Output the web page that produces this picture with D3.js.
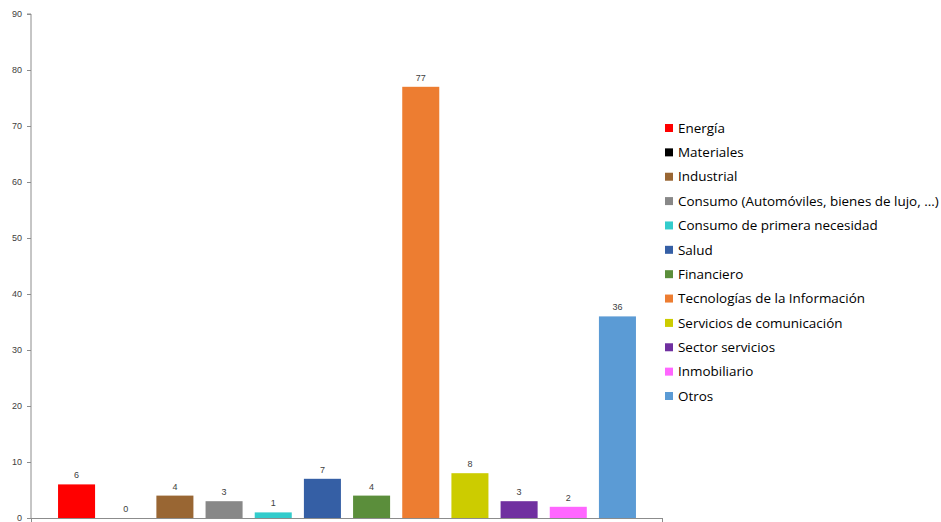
<!DOCTYPE html>
<html><head><meta charset="utf-8">
<script src="https://cdn.jsdelivr.net/npm/d3@7"></script>
<style>body{margin:0;background:#fff}svg{display:block}</style>
</head><body>
<svg id="c" width="941" height="522"></svg>
<script>
const categories = ["Energía","Materiales","Industrial","Consumo (Automóviles, bienes de lujo, ...)","Consumo de primera necesidad","Salud","Financiero","Tecnologías de la Información","Servicios de comunicación","Sector servicios","Inmobiliario","Otros"];
const values = [6,0,4,3,1,7,4,77,8,3,2,36];
const colors = ["#FF0000","#000000","#996633","#888888","#33CCCC","#355FA5","#5B8E3B","#ED7D31","#CCCC00","#7030A0","#FF66FF","#5B9BD5"];
const yTicks = [0,10,20,30,40,50,60,70,80,90];

const svg = d3.select("#c");
const x0 = 31, x1 = 663, yTop = 14, yBot = 518;
const x = d3.scaleBand().domain(categories).range([x0, x1]).paddingInner(0.247).paddingOuter(0.55);
const y = d3.scaleLinear().domain([0, 90]).range([yBot, yTop]);

// bars
svg.selectAll("rect.bar").data(categories).join("rect")
  .attr("class","bar")
  .attr("x", d => x(d)).attr("width", x.bandwidth())
  .attr("y", (d,i) => y(values[i])).attr("height", (d,i) => y(0) - y(values[i]))
  .attr("fill", (d,i) => colors[i]);

// value labels
svg.selectAll("text.val").data(categories).join("text")
  .attr("class","val")
  .attr("x", d => x(d) + x.bandwidth()/2)
  .attr("y", (d,i) => y(values[i]) - 6)
  .attr("text-anchor","middle")
  .attr("font-family","Liberation Sans, Arial, sans-serif")
  .attr("font-size", 9).attr("fill","#404040")
  .text((d,i) => values[i]);

// y axis
const yAxis = d3.axisLeft(y).tickValues(yTicks).tickSize(4).tickPadding(5);
const gy = svg.append("g").attr("transform", `translate(${x0},0)`).call(yAxis);
gy.select(".domain").attr("stroke","#8c8c8c").attr("d", `M-4,${yTop}H0V${yBot}`);
gy.selectAll(".tick line").attr("stroke","#8c8c8c");
gy.selectAll(".tick text").attr("font-family","Liberation Sans, Arial, sans-serif").attr("font-size",9).attr("fill","#404040");

// x axis
svg.append("line").attr("x1", x0).attr("x2", x1).attr("y1", yBot+0.5).attr("y2", yBot+0.5).attr("stroke","#8c8c8c");
svg.append("line").attr("x1", x1-0.5).attr("x2", x1-0.5).attr("y1", yBot).attr("y2", yBot+4).attr("stroke","#8c8c8c");
svg.append("line").attr("x1", x0+0.5).attr("x2", x0+0.5).attr("y1", yBot).attr("y2", yBot+4).attr("stroke","#8c8c8c");

// legend
const leg = svg.append("g");
const ly = d3.scalePoint().domain(categories).range([128, 396]);
leg.selectAll("rect").data(categories).join("rect")
  .attr("x", 665).attr("y", d => ly(d) - 4).attr("width", 8).attr("height", 8)
  .attr("fill", (d,i) => colors[i]);
leg.selectAll("text").data(categories).join("text")
  .attr("x", 678).attr("y", d => ly(d)).attr("dy","0.35em")
  .attr("font-family","Open Sans, Liberation Sans, sans-serif")
  .attr("font-size", 13.45).attr("fill","#000")
  .text(d => d);
</script>
</body></html>
